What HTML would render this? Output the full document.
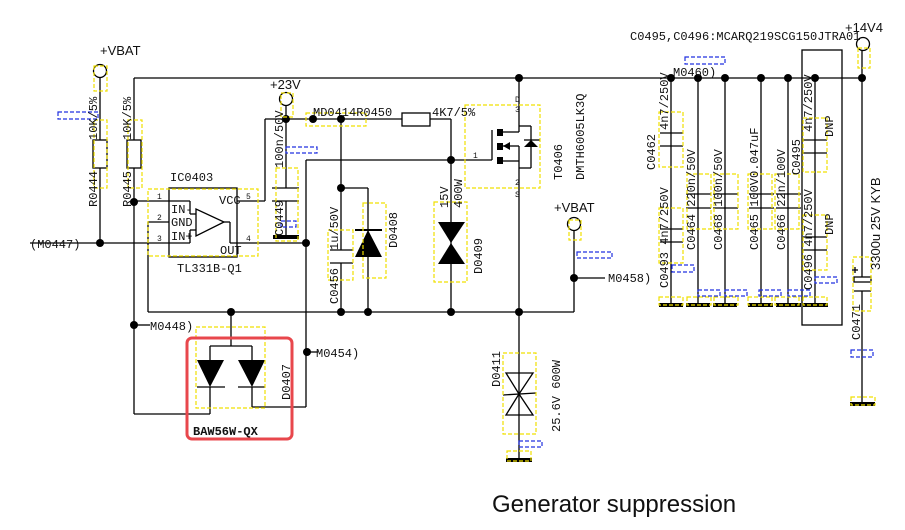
<!DOCTYPE html>
<html><head><meta charset="utf-8"><style>
html,body{margin:0;padding:0;background:#fff;}
svg{display:block;}
.m{font-family:"Liberation Mono",monospace;font-size:12px;fill:#111;}
.s{font-family:"Liberation Sans",sans-serif;fill:#111;}
.p{font-family:"Liberation Mono",monospace;font-size:8px;fill:#111;}
</style></head><body>
<svg width="905" height="530" viewBox="0 0 905 530" xmlns="http://www.w3.org/2000/svg">
<g stroke="#000" stroke-width="1.3" fill="none">
<line x1="134" y1="78" x2="862" y2="78"/>
<circle cx="100" cy="71" r="6.5"/>
<line x1="100" y1="78" x2="100" y2="140"/><rect x="93" y="140" width="14" height="28"/><line x1="100" y1="168" x2="100" y2="243"/>
<line x1="134" y1="78" x2="134" y2="140"/><rect x="127" y="140" width="14" height="28"/><line x1="134" y1="168" x2="134" y2="414"/>
<line x1="134" y1="414" x2="210" y2="414"/><line x1="210" y1="414" x2="210" y2="387"/>
<line x1="134" y1="325" x2="150" y2="325"/>
<rect x="169" y="188" width="68" height="69"/>
<line x1="134" y1="201" x2="169" y2="201"/>
<line x1="148" y1="222" x2="169" y2="222"/><line x1="148" y1="222" x2="148" y2="312"/>
<line x1="30" y1="243" x2="169" y2="243"/>
<line x1="169" y1="201" x2="190" y2="201"/><line x1="190" y1="201" x2="190" y2="214"/><line x1="190" y1="214" x2="196" y2="214"/>
<line x1="169" y1="243" x2="190" y2="243"/><line x1="190" y1="243" x2="190" y2="230"/><line x1="190" y1="230" x2="196" y2="230"/>
<polygon points="196,209 196,236 224,222"/>
<line x1="224" y1="222" x2="230" y2="222"/><line x1="230" y1="222" x2="230" y2="243"/>
<line x1="237" y1="201" x2="265" y2="201"/><line x1="265" y1="201" x2="265" y2="119"/><line x1="265" y1="119" x2="402" y2="119"/>
<line x1="230" y1="243" x2="306" y2="243"/>
<circle cx="286" cy="99" r="6.5"/><line x1="286" y1="106" x2="286" y2="188"/>
<line x1="272" y1="188" x2="299" y2="188"/><line x1="272" y1="201" x2="299" y2="201"/><line x1="286" y1="201" x2="286" y2="237"/>
<line x1="306" y1="160" x2="451" y2="160"/><line x1="306" y1="160" x2="306" y2="407"/><line x1="306" y1="407" x2="252" y2="407"/><line x1="252" y1="407" x2="252" y2="387"/>
<line x1="306" y1="352" x2="318" y2="352"/>
<rect x="402" y="113" width="28" height="13"/><line x1="430" y1="119" x2="451" y2="119"/><line x1="451" y1="119" x2="451" y2="312"/>
<line x1="341" y1="119" x2="341" y2="250"/><line x1="330" y1="250" x2="353" y2="250"/><line x1="330" y1="263" x2="353" y2="263"/><line x1="341" y1="263" x2="341" y2="312"/>
<line x1="341" y1="188" x2="368" y2="188"/><line x1="368" y1="188" x2="368" y2="312"/>
<line x1="148" y1="312" x2="574" y2="312"/>
<line x1="231" y1="312" x2="231" y2="346"/><line x1="210" y1="346" x2="252" y2="346"/><line x1="210" y1="346" x2="210" y2="360"/><line x1="252" y1="346" x2="252" y2="360"/>
<line x1="197" y1="387" x2="225" y2="387"/><line x1="238" y1="387" x2="265" y2="387"/>
<line x1="519" y1="78" x2="519" y2="132"/><line x1="503" y1="132" x2="519" y2="132"/>
<line x1="519" y1="126" x2="531" y2="126"/><line x1="531" y1="126" x2="531" y2="168"/><line x1="531" y1="168" x2="519" y2="168"/>
<line x1="503" y1="146" x2="519" y2="146"/><line x1="519" y1="146" x2="519" y2="161"/>
<line x1="503" y1="161" x2="519" y2="161"/><line x1="519" y1="161" x2="519" y2="460"/>
<line x1="451" y1="160" x2="492" y2="160"/><line x1="492" y1="130" x2="492" y2="160"/>
<line x1="524" y1="140" x2="540" y2="140"/>
<circle cx="574" cy="224" r="6.5"/><line x1="574" y1="231" x2="574" y2="312"/><line x1="574" y1="278" x2="605" y2="278"/>
<polygon points="506,373 533,373 519,394"/><polygon points="506,415 533,415 519,394"/>
<line x1="503" y1="395" x2="536" y2="393"/>
<line x1="671" y1="78" x2="671" y2="303"/><line x1="660" y1="133" x2="683" y2="133"/><line x1="660" y1="146" x2="683" y2="146"/><line x1="660" y1="229" x2="683" y2="229"/><line x1="660" y1="242" x2="683" y2="242"/>
<line x1="698" y1="78" x2="698" y2="303"/><line x1="686" y1="194" x2="711" y2="194"/><line x1="686" y1="208" x2="711" y2="208"/>
<line x1="725" y1="78" x2="725" y2="303"/><line x1="713" y1="194" x2="738" y2="194"/><line x1="713" y1="208" x2="738" y2="208"/>
<line x1="761" y1="78" x2="761" y2="303"/><line x1="749" y1="194" x2="774" y2="194"/><line x1="749" y1="208" x2="774" y2="208"/>
<line x1="788" y1="78" x2="788" y2="303"/><line x1="776" y1="194" x2="801" y2="194"/><line x1="776" y1="208" x2="801" y2="208"/>
<line x1="815" y1="78" x2="815" y2="303"/><line x1="803" y1="140" x2="827" y2="140"/><line x1="803" y1="153" x2="827" y2="153"/><line x1="803" y1="237" x2="827" y2="237"/><line x1="803" y1="250" x2="827" y2="250"/>
<rect x="802" y="50" width="40" height="275"/>
<circle cx="863" cy="44" r="6.5"/><line x1="862" y1="51" x2="862" y2="277"/>
<rect x="854" y="277" width="17" height="5"/><line x1="854" y1="291" x2="871" y2="291"/><line x1="862" y1="291" x2="862" y2="404"/>
<line x1="852" y1="270" x2="858" y2="270"/><line x1="855" y1="267" x2="855" y2="273"/>
</g>
<g fill="#000">
<circle cx="100" cy="243" r="4"/><circle cx="134" cy="202" r="4"/><circle cx="134" cy="325" r="4"/>
<circle cx="286" cy="119" r="4"/><circle cx="313" cy="119" r="4"/><circle cx="341" cy="119" r="4"/><circle cx="341" cy="188" r="4"/>
<circle cx="306" cy="243" r="4"/><circle cx="307" cy="352" r="4"/><circle cx="451" cy="160" r="4"/>
<circle cx="231" cy="312" r="4"/><circle cx="341" cy="312" r="4"/><circle cx="368" cy="312" r="4"/><circle cx="451" cy="312" r="4"/><circle cx="519" cy="312" r="4"/>
<circle cx="519" cy="78" r="4"/><circle cx="574" cy="278" r="4"/>
<circle cx="671" cy="78" r="4"/><circle cx="698" cy="78" r="4"/><circle cx="725" cy="78" r="4"/><circle cx="761" cy="78" r="4"/><circle cx="788" cy="78" r="4"/><circle cx="815" cy="78" r="4"/><circle cx="862" cy="78" r="4"/>
<rect x="273" y="235" width="26" height="4"/>
<polygon points="355,257 382,257 368,230"/><rect x="355" y="229" width="27" height="2"/>
<polygon points="438,222 465,222 451,243"/><polygon points="438,264 465,264 451,243"/>
<polygon points="197,360 224,360 210,387"/><polygon points="238,360 265,360 252,387"/>
<rect x="497" y="129" width="6" height="7"/><rect x="497" y="143" width="6" height="7"/><rect x="497" y="157" width="6" height="7"/>
<polygon points="503,146 510,142 510,150"/><polygon points="524,147 538,147 531,140"/>
<rect x="506" y="458" width="26" height="4"/>
<rect x="659" y="303" width="24" height="4"/><rect x="686" y="303" width="24" height="4"/><rect x="713" y="303" width="24" height="4"/><rect x="748" y="303" width="25" height="4"/><rect x="776" y="303" width="25" height="4"/><rect x="803" y="303" width="25" height="4"/>
<rect x="850" y="402" width="25" height="4"/>
</g>
<g stroke="#f0e000" stroke-width="1.2" stroke-dasharray="4,2" fill="none">
<rect x="94" y="66" width="13" height="25"/><rect x="94" y="120" width="13" height="68"/><rect x="128" y="120" width="14" height="68"/>
<rect x="148" y="189" width="110" height="67"/><rect x="276" y="168" width="22" height="73"/><rect x="281" y="93" width="12" height="24"/>
<rect x="306" y="113" width="60" height="13"/><rect x="363" y="203" width="23" height="75"/><rect x="328" y="230" width="25" height="50"/>
<rect x="434" y="202" width="33" height="80"/><rect x="465" y="105" width="75" height="83"/><rect x="569" y="220" width="12" height="20"/>
<rect x="196" y="327" width="69" height="81"/><rect x="503" y="353" width="33" height="81"/><rect x="507" y="451" width="24" height="10"/>
<rect x="659" y="112" width="24" height="55"/><rect x="659" y="208" width="24" height="55"/><rect x="687" y="174" width="24" height="55"/><rect x="714" y="174" width="24" height="55"/><rect x="748" y="174" width="24" height="55"/><rect x="775" y="174" width="24" height="55"/><rect x="803" y="118" width="24" height="54"/><rect x="803" y="215" width="24" height="55"/>
<rect x="858" y="48" width="12" height="20"/><rect x="853" y="257" width="18" height="54"/><rect x="851" y="397" width="24" height="8"/>
<rect x="659" y="297" width="24" height="8"/><rect x="687" y="297" width="24" height="8"/><rect x="714" y="297" width="24" height="8"/><rect x="748" y="297" width="24" height="8"/><rect x="775" y="297" width="24" height="8"/><rect x="803" y="297" width="24" height="8"/>
</g>
<g stroke="#2030e0" stroke-width="1.2" stroke-dasharray="4,2" fill="none">
<rect x="58" y="112" width="40" height="7"/><rect x="286" y="147" width="31" height="6"/><rect x="281" y="221" width="15" height="6"/>
<rect x="577" y="252" width="35" height="6"/><rect x="519" y="441" width="23" height="6"/>
<rect x="685" y="57" width="40" height="7"/><rect x="672" y="265" width="22" height="7"/><rect x="698" y="290" width="22" height="6"/><rect x="725" y="290" width="22" height="6"/><rect x="759" y="290" width="22" height="6"/><rect x="788" y="290" width="22" height="6"/><rect x="815" y="277" width="22" height="6"/><rect x="851" y="350" width="22" height="7"/>
</g>
<rect x="187" y="338" width="105" height="101" rx="5" fill="none" stroke="#e8474c" stroke-width="3"/>
<text class="s" x="100" y="55" font-size="13">+VBAT</text>
<text class="s" x="270" y="89" font-size="13">+23V</text>
<text class="s" x="554" y="212" font-size="13">+VBAT</text>
<text class="s" x="845" y="32" font-size="13">+14V4</text>
<text class="m" x="630" y="40">C0495,C0496:MCARQ219SCG150JTRA01</text>
<text class="m" x="170" y="181" font-size="13">IC0403</text>
<text class="m" x="177" y="272" font-size="13">TL331B-Q1</text>
<text class="m" x="30" y="248" font-size="13">(M0447)</text>
<text class="m" x="150" y="330" font-size="13">M0448)</text>
<text class="m" x="316" y="357" font-size="13">M0454)</text>
<text class="m" x="608" y="282" font-size="13">M0458)</text>
<text class="m" x="673" y="76" font-size="13">M0460)</text>
<text class="m" x="313" y="116" font-size="13">MD0414R0450</text>
<text class="m" x="432" y="116" font-size="13">4K7/5%</text>
<text class="m" x="193" y="435" font-size="12" font-weight="bold">BAW56W-QX</text>
<text class="m" x="171" y="213" font-size="9">IN-</text><text class="m" x="171" y="226" font-size="9">GND</text><text class="m" x="171" y="240" font-size="9">IN+</text>
<text class="m" x="219" y="204" font-size="9">VCC</text><text class="m" x="220" y="254" font-size="9">OUT</text>
<text class="p" x="157" y="199">1</text><text class="p" x="157" y="220">2</text><text class="p" x="157" y="241">3</text><text class="p" x="246" y="199">5</text><text class="p" x="246" y="241">4</text>
<text class="p" x="473" y="158">1</text><text class="p" x="515" y="102">D</text><text class="p" x="515" y="112">3</text><text class="p" x="515" y="185">2</text><text class="p" x="515" y="197">S</text>
<g class="m" font-size="12">
<text transform="translate(97,207) rotate(-90)">R0444</text>
<text transform="translate(97,140) rotate(-90)">10K/5%</text>
<text transform="translate(131,207) rotate(-90)">R0445</text>
<text transform="translate(131,140) rotate(-90)">10K/5%</text>
<text transform="translate(283,236) rotate(-90)">C0449</text>
<text transform="translate(283,168) rotate(-90)">100n/50V</text>
<text transform="translate(338,304) rotate(-90)">C0456</text>
<text transform="translate(338,250) rotate(-90)">1u/50V</text>
<text transform="translate(397,248) rotate(-90)">D0408</text>
<text transform="translate(448,208) rotate(-90)">15V</text>
<text transform="translate(462,208) rotate(-90)">400W</text>
<text transform="translate(482,274) rotate(-90)">D0409</text>
<text transform="translate(562,180) rotate(-90)">T0406</text>
<text transform="translate(584,180) rotate(-90)">DMTH6005LK3Q</text>
<text transform="translate(290,400) rotate(-90)">D0407</text>
<text transform="translate(500,387) rotate(-90)">D0411</text>
<text transform="translate(560,432) rotate(-90)">25.6V 600W</text>
<text transform="translate(668,288) rotate(-90)">C0493 4n7/250V</text>
<text transform="translate(655,170) rotate(-90)">C0462</text>
<text transform="translate(668,130) rotate(-90)">4n7/250V</text>
<text transform="translate(695,250) rotate(-90)">C0464 220n/50V</text>
<text transform="translate(722,250) rotate(-90)">C0468 100n/50V</text>
<text transform="translate(758,250) rotate(-90)">C0465 100V0.047uF</text>
<text transform="translate(785,250) rotate(-90)">C0466 22n/100V</text>
<text transform="translate(800,175) rotate(-90)">C0495</text>
<text transform="translate(812,132) rotate(-90)">4n7/250V</text>
<text transform="translate(812,290) rotate(-90)">C0496 4n7/250V</text>
<text transform="translate(833,137) rotate(-90)">DNP</text>
<text transform="translate(833,235) rotate(-90)">DNP</text>
<text transform="translate(860,340) rotate(-90)">C0471</text>
</g>
<text class="s" transform="translate(880,270) rotate(-90)" font-size="13">3300u 25V KYB</text>
<text class="s" x="492" y="512" font-size="24">Generator suppression</text>
</svg>
</body></html>
